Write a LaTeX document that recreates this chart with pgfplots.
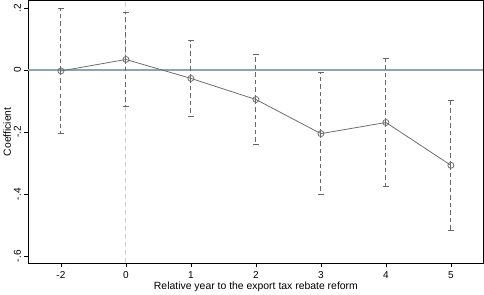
\documentclass[border=0pt]{standalone}
\usepackage{pgfplots}
\pgfplotsset{compat=1.18}
\usepackage{fontspec}
\setmainfont{Liberation Sans}
\definecolor{zeroline}{HTML}{8CA5B5}
\definecolor{vline}{HTML}{C9D2D6}
\definecolor{ptline}{HTML}{6E6E6E}
\definecolor{ebar}{HTML}{686868}
\begin{document}
\begin{tikzpicture}
\begin{axis}[
  scale only axis,
  width=454pt, height=262pt,
  xmin=-0.5, xmax=6.5,
  ymin=-0.622, ymax=0.224,
  axis lines=box,
  axis line style={black, line width=0.8pt},
  xtick={0,1,2,3,4,5,6},
  xticklabels={-2,0,1,2,3,4,5},
  ytick={-0.6,-0.4,-0.2,0,0.2},
  yticklabels={-.6,-.4,-.2,0,.2},
  tick align=outside,
  xtick pos=bottom, ytick pos=left,
  major tick length=4pt,
  tick style={black, line width=0.6pt},
  xticklabel style={font=\fontsize{10}{11}\selectfont, yshift=-1pt},
  yticklabel style={font=\fontsize{10}{11}\selectfont, rotate=90, anchor=south},
  xlabel style={font=\fontsize{10.4}{11}\selectfont, yshift=4pt},
  ylabel style={font=\fontsize{10.3}{11}\selectfont, yshift=-4pt},
  xlabel={Relative year to the export tax rebate reform},
  ylabel={Coefficient},
  clip=false,
]
\addplot[vline, line width=1pt, dash pattern=on 5pt off 3pt] coordinates {(1,-0.622) (1,0.224)};
\addplot[zeroline, line width=1.2pt] coordinates {(-0.5,0) (6.5,0)};
\addplot[draw=none, mark=none,
  error bars/.cd, y dir=both, y explicit,
  error bar style={ebar, line width=0.9pt, dash pattern=on 4.5pt off 3pt},
  error mark options={ebar, rotate=90, mark size=3pt, line width=0.9pt, solid}]
  coordinates {
  (0,-0.003) +- (0.203,0.200)
  (1,0.034) +- (0.150,0.150)
  (2,-0.027) +- (0.122,0.122)
  (3,-0.095) +- (0.145,0.144)
  (4,-0.205) +- (0.200,0.197)
  (5,-0.169) +- (0.206,0.206)
  (6,-0.307) +- (0.210,0.209)
  };
\addplot[ptline, line width=0.8pt, mark=o, mark size=3pt, mark options={ptline, fill=none, line width=0.8pt}]
  coordinates {
  (0,-0.003) (1,0.034) (2,-0.027) (3,-0.095) (4,-0.205) (5,-0.169) (6,-0.307)
  };
\end{axis}
\end{tikzpicture}
\end{document}
